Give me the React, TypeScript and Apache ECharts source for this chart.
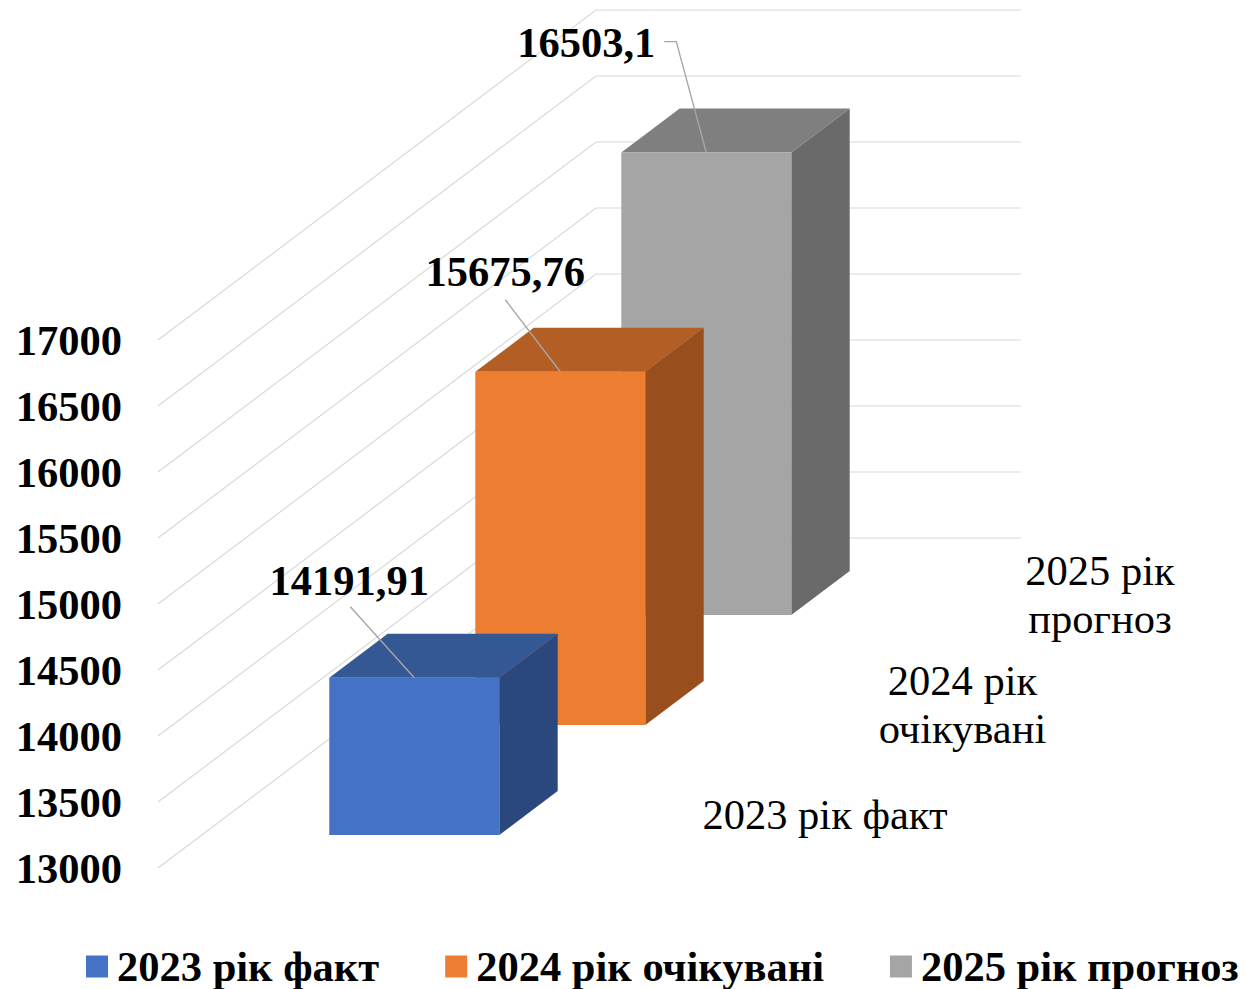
import React, { useEffect, useRef } from 'react';
import * as echarts from 'echarts';

const categories = ['2023 рік факт', '2024 рік очікувані', '2025 рік прогноз'];
const depthLabels = ['2023 рік факт', '2024 рік\nочікувані', '2025 рік\nпрогноз'];
const values = [14191.91, 15675.76, 16503.1];
const yTicks = [13000, 13500, 14000, 14500, 15000, 15500, 16000, 16500, 17000];
const frontColors = ['#4472C4', '#ED7D31', '#A5A5A5'];
const topColors = ['#335894', '#B35E24', '#7F7F7F'];
const sideColors = ['#2A487E', '#994E1D', '#6A6A6A'];

const FONT = "'Liberation Serif', 'Times New Roman', Times, serif";
const FS = 42.5;
// oblique depth projection (pixels per depth slot)
const DX = 146;
const DY = -110;
const DEPTH = 3;
const BAR_X0 = 0.3;
const BAR_X1 = 0.7;
const BAR_D0 = 0.3;
const BAR_D1 = 0.7;
const labelOffsets = [[-65, -97], [-55, -100], [-120, -110]];
const leaderPaths = [
  [[-64, -71], [0, 0]],
  [[-55, -72], [0, 0]],
  [[-42, -111], [-30, -111], [0, 0]],
];
const catLabelShift = (i: number) => [169 - 8.5 * i, 1];

const fmt = (v: number) => String(v).replace('.', ',');

function makeP(api: any) {
  return (x: number, val: number, d: number) => {
    const c = api.coord([x, val]);
    return [c[0] + d * DX, c[1] + d * DY];
  };
}

const renderWall = (_params: any, api: any) => {
  const v = api.value(1);
  const P = makeP(api);
  return {
    type: 'polyline',
    shape: { points: [P(0, v, 0), P(0, v, DEPTH), P(1, v, DEPTH)] },
    style: { stroke: '#D9D9D9', lineWidth: 1.2, fill: null },
    silent: true,
  };
};

const renderBar = (i: number) => (_params: any, api: any) => {
  const v = api.value(1);
  const base = yTicks[0];
  const P = makeP(api);
  const df = i + BAR_D0;
  const db = i + BAR_D1;
  const front = [P(BAR_X0, base, df), P(BAR_X1, base, df), P(BAR_X1, v, df), P(BAR_X0, v, df)];
  const top = [P(BAR_X0, v, df), P(BAR_X1, v, df), P(BAR_X1, v, db), P(BAR_X0, v, db)];
  const side = [P(BAR_X1, base, df), P(BAR_X1, base, db), P(BAR_X1, v, db), P(BAR_X1, v, df)];
  const anchor = P((BAR_X0 + BAR_X1) / 2, v, df);
  const lab = [anchor[0] + labelOffsets[i][0], anchor[1] + labelOffsets[i][1]];
  const leader = leaderPaths[i].map((p) => [anchor[0] + p[0], anchor[1] + p[1]]);
  const cat = P(1, base, i + 0.5);
  const sh = catLabelShift(i);
  return {
    type: 'group',
    children: [
      { type: 'polygon', shape: { points: side }, style: { fill: sideColors[i] } },
      { type: 'polygon', shape: { points: top }, style: { fill: topColors[i] } },
      { type: 'polygon', shape: { points: front }, style: { fill: frontColors[i] } },
      {
        type: 'polyline',
        shape: { points: leader },
        style: { stroke: '#A6A6A6', lineWidth: 1.4, fill: null },
      },
      {
        type: 'text',
        x: lab[0],
        y: lab[1],
        style: {
          text: fmt(v),
          fontSize: FS,
          fontWeight: 'bold',
          fontFamily: FONT,
          fill: '#000',
          align: 'center',
          verticalAlign: 'middle',
        },
      },
      {
        type: 'text',
        x: cat[0] + sh[0],
        y: cat[1] + sh[1],
        style: {
          text: depthLabels[i],
          fontSize: FS,
          lineHeight: 48,
          fontFamily: FONT,
          fill: '#000',
          align: 'center',
          verticalAlign: 'middle',
        },
      },
    ],
  };
};

export default function App() {
  const ref = useRef<HTMLDivElement>(null);
  useEffect(() => {
    if (!ref.current) return;
    const chart = echarts.init(ref.current, undefined, { renderer: 'svg' });
    chart.setOption({
      animation: false,
      color: frontColors,
      grid: { left: 158, top: 340, width: 425, height: 528 },
      xAxis: { type: 'value', min: 0, max: 1, show: false },
      yAxis: {
        type: 'value',
        min: 13000,
        max: 17000,
        interval: 500,
        axisLine: { show: false },
        axisTick: { show: false },
        splitLine: { show: false },
        axisLabel: {
          fontSize: FS,
          fontWeight: 'bold',
          fontFamily: FONT,
          color: '#000',
          margin: 36,
          formatter: (v: number) => String(v),
        },
      },
      legend: {
        data: categories,
        icon: 'rect',
        itemWidth: 22,
        itemHeight: 22,
        left: 86,
        top: 945,
        itemGap: 66,
        padding: 0,
        textStyle: {
          fontSize: FS,
          fontWeight: 'bold',
          fontFamily: FONT,
          color: '#000',
          lineHeight: 42,
          padding: [0, 0, 0, 4],
        },
      },
      series: [
        {
          type: 'custom',
          name: 'walls',
          data: yTicks.map((t) => [0, t]),
          renderItem: renderWall,
          z: 1,
          silent: true,
        },
        ...categories.map((name, i) => ({
          type: 'custom',
          name,
          data: [[0.5, values[i]]],
          renderItem: renderBar(i),
          itemStyle: { color: frontColors[i] },
          z: 10 - i,
        })),
      ],
    });
    return () => chart.dispose();
  }, []);
  return (
    <div
      ref={ref}
      style={{ position: 'absolute', left: 0, top: 0, width: 1246, height: 989 }}
    />
  );
}
